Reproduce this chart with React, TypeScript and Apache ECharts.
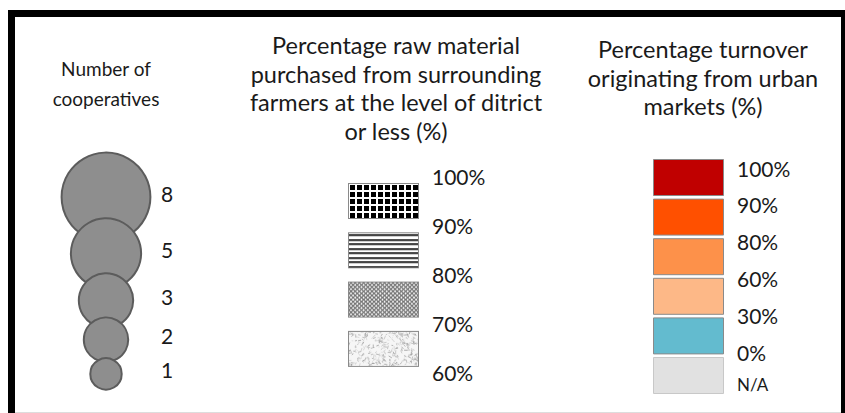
import React, { useEffect, useRef } from "react";
import * as echarts from "echarts";

// ---- data ----
const cooperativeTitle = ["Number of", "cooperatives"];
const cooperativeCounts = [8, 5, 3, 2, 1];

const rawTitle = [
  "Percentage raw material",
  "purchased from surrounding",
  "farmers at the level of ditrict",
  "or less (%)",
];
const rawLabels = ["100%", "90%", "80%", "70%", "60%"];
const rawPatterns = ["grid", "hlines", "crosshatch", "noise"];

const turnoverTitle = ["Percentage turnover", "originating from urban", "markets (%)"];
const turnoverLabels = ["100%", "90%", "80%", "60%", "30%", "0%"];
const turnoverNA = "N/A";
const turnoverColors = ["#c00000", "#ff5000", "#fd914a", "#fdb887", "#63bbcf", "#e1e1e1"];

// ---- styles ----
const FONT = "Lato";
const TXT = "#1a1a1a";

function makePattern(kind: string, w: number, h: number): string {
  const c = document.createElement("canvas");
  c.width = w;
  c.height = h;
  const g = c.getContext("2d")!;
  g.fillStyle = "#ffffff";
  g.fillRect(0, 0, w, h);
  if (kind === "grid") {
    g.fillStyle = "#000";
    for (let x = 2; x < w - 1; x += 7) {
      for (let y = 2; y < h - 1; y += 7) {
        g.fillRect(x, y, Math.min(5, w - 1 - x), Math.min(5, h - 1 - y));
      }
    }
  } else if (kind === "hlines") {
    g.fillStyle = "#000";
    for (let y = 2; y < h - 1; y += 4.5) {
      g.fillRect(1, Math.round(y), w - 2, 1.6);
    }
  } else if (kind === "crosshatch") {
    g.strokeStyle = "#6e6e6e";
    g.lineWidth = 1.1;
    const p = 4.2;
    for (let k = -h; k < w + h; k += p) {
      g.beginPath();
      g.moveTo(k, 0);
      g.lineTo(k + h, h);
      g.stroke();
      g.beginPath();
      g.moveTo(k, h);
      g.lineTo(k + h, 0);
      g.stroke();
    }
  } else if (kind === "noise") {
    g.fillStyle = "#f6f6f6";
    g.fillRect(0, 0, w, h);
    let s = 12345;
    const rnd = () => {
      s = (s * 1103515245 + 12345) & 0x7fffffff;
      return s / 0x7fffffff;
    };
    g.lineWidth = 0.8;
    for (let i = 0; i < 340; i++) {
      const x = rnd() * w;
      const y = rnd() * h;
      const a = rnd() * Math.PI * 2;
      const l = 1.5 + rnd() * 2.5;
      const v = Math.round(150 + rnd() * 80);
      g.strokeStyle = `rgb(${v},${v},${v})`;
      g.beginPath();
      g.moveTo(x, y);
      g.lineTo(x + Math.cos(a) * l, y + Math.sin(a) * l);
      g.stroke();
    }
  }
  g.strokeStyle = "#8a8a8a";
  g.lineWidth = 1;
  g.strokeRect(0.5, 0.5, w - 1, h - 1);
  return c.toDataURL();
}

function text(t: string, x: number, y: number, size: number, align = "center") {
  return {
    type: "text",
    x,
    y,
    silent: true,
    style: {
      text: t,
      fontSize: size,
      fontFamily: FONT,
      fill: TXT,
      align,
      verticalAlign: "middle",
    },
  };
}

export default function App() {
  const ref = useRef<HTMLDivElement>(null);
  useEffect(() => {
    const chart = echarts.init(ref.current!, undefined, { renderer: "svg" });
    const els: any[] = [];

    // frame
    els.push({
      type: "rect",
      shape: { x: 11.5, y: 13.5, width: 833, height: 412 },
      style: { fill: "#ffffff", stroke: "#000000", lineWidth: 7 },
    });
    els.push({
      type: "line",
      shape: { x1: 15, y1: 412.5, x2: 841, y2: 412.5 },
      style: { stroke: "#dddddd", lineWidth: 1 },
    });

    // column 1: cooperatives
    cooperativeTitle.forEach((t, i) => els.push(text(t, 106, 68 + i * 30, 19)));
    const cx = 106;
    let cy = 197;
    let prevR = 0;
    cooperativeCounts.forEach((n, i) => {
      const r = 15.7 * Math.sqrt(n);
      if (i > 0) cy = cy + prevR + 12;
      els.push({
        type: "circle",
        shape: { cx, cy, r },
        style: { fill: "#8e8e8e", stroke: "#5c5c5c", lineWidth: 2 },
        z: 10 + i,
      });
      els.push({ ...text(String(n), 161, cy - 4, 21, "left"), z: 30 });
      prevR = r;
    });

    // column 2: raw material
    rawTitle.forEach((t, i) => els.push(text(t, 396, 45 + i * 28.5, 23.5)));
    const rx = 348, rw = 71, rh = 36, rTop = 183, rPitch = 49.3;
    rawPatterns.forEach((p, i) => {
      els.push({
        type: "image",
        style: { image: makePattern(p, rw, rh), x: rx, y: rTop + i * rPitch, width: rw, height: rh },
      });
    });
    rawLabels.forEach((l, i) => els.push(text(l, 432, 176 + i * 49, 21, "left")));

    // column 3: turnover
    turnoverTitle.forEach((t, i) => els.push(text(t, 703, 49 + i * 28.5, 23.5)));
    const bx = 653.5, bw = 70, bh = 36, bTop = 159.5, bPitch = 39.6;
    turnoverColors.forEach((c, i) => {
      els.push({
        type: "rect",
        shape: { x: bx, y: bTop + i * bPitch, width: bw, height: bh },
        style: { fill: c, stroke: i === turnoverColors.length - 1 ? "#c8c8c8" : "#8a8a8a", lineWidth: 1 },
      });
    });
    turnoverLabels.forEach((l, i) => els.push(text(l, 737, 168 + i * 36.8, 21, "left")));
    els.push(text(turnoverNA, 737, 384, 17, "left"));

    chart.setOption({
      animation: false,
      backgroundColor: "#ffffff",
      graphic: { elements: els },
    });
    return () => chart.dispose();
  }, []);
  return (
    <div
      ref={ref}
      style={{ position: "fixed", left: 0, top: 0, width: 845, height: 413 }}
    />
  );
}
